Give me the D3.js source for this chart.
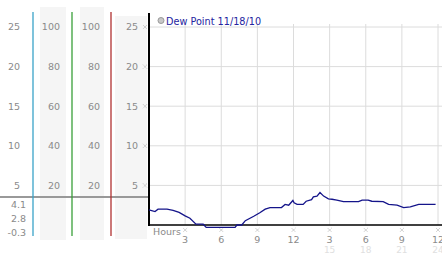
<html>
<head>
	<style>
		body { margin: 0; background: #fff; }
		text { font-family: "DejaVu Sans", Verdana, sans-serif; }
	</style>
	<script type="text/javascript" src="https://d3js.org/d3.v7.min.js"></script>
</head>
<body>
<svg width="442" height="253"></svg>
<script>
	// dew point readings, hours since midnight
	var hours = [0, 0.5, 0.75, 1.5, 2, 2.5, 3, 3.4, 3.9, 4.5, 4.75, 5.7, 7.15, 7.3, 7.7, 8, 8.7, 9.2, 9.65, 10.05,
		11, 11.3, 11.6, 11.95, 12.05, 12.3, 12.8, 13.05, 13.5, 13.65, 13.95, 14.2, 14.5, 14.9, 15.2, 15.6,
		16.15, 17.4, 17.7, 18.2, 18.5, 19.45, 19.9, 20.6, 21.15, 21.7, 22.4, 23.8]
	var dewPoint = [1.9, 1.7, 2.0, 2.0, 1.85, 1.6, 1.15, 0.85, 0.1, 0.1, -0.3, -0.3, -0.3, 0, 0, 0.55, 1.1, 1.55, 2.0, 2.2,
		2.2, 2.6, 2.5, 3.1, 2.8, 2.6, 2.6, 3.0, 3.2, 3.55, 3.65, 4.1, 3.65, 3.3, 3.25, 3.15,
		2.95, 2.95, 3.15, 3.15, 3.0, 2.95, 2.6, 2.5, 2.2, 2.3, 2.6, 2.6]

	var tempTicks = [25, 20, 15, 10, 5]
	var pctTicks = [100, 80, 60, 40, 20]
	var hourTicks = [3, 6, 9, 12, 15, 18, 21, 24]
	var hourLabels = ["3", "6", "9", "12", "3", "6", "9", "12"]
	var hourLabels2 = ["", "", "", "", "15", "18", "21", "24"]
	var stats = ["4.1", "2.8", "-0.3"]
	var legendText = "Dew Point 11/18/10"

	var svg = d3.select("svg")

	var x = d3.scaleLinear().domain([0, 24]).range([149, 438])
	var y = d3.scaleLinear().domain([0, 25]).range([225, 27])
	var yPct = d3.scaleLinear().domain([0, 100]).range([225, 27])

	// left side panels
	svg.append("rect").attr("x", 40).attr("y", 7).attr("width", 26).attr("height", 233).attr("fill", "#f5f5f5")
	svg.append("rect").attr("x", 80).attr("y", 7).attr("width", 24).attr("height", 233).attr("fill", "#f5f5f5")
	svg.append("rect").attr("x", 115).attr("y", 16).attr("width", 32).attr("height", 223).attr("fill", "#f5f5f5")

	svg.append("line").attr("x1", 0).attr("x2", 149).attr("y1", 197).attr("y2", 197)
		.attr("stroke", "#999").attr("stroke-width", 2)

	var sep = [[33, "#3aa3c8"], [72, "#3aa03a"], [111, "#b03030"]]
	sep.forEach(function(s) {
		svg.append("line").attr("x1", s[0]).attr("x2", s[0]).attr("y1", 12).attr("y2", 236)
			.attr("stroke", s[1]).attr("stroke-width", 1.3)
	})

	var labelStyle = function(sel) {
		sel.attr("font-size", "9.5px").attr("fill", "#8a8a8a").attr("text-anchor", "end").attr("dy", "0.35em")
	}

	svg.append("g").selectAll("text").data(tempTicks).enter().append("text")
		.attr("x", 20).attr("y", function(d) { return y(d) }).text(function(d) { return d }).call(labelStyle)
	svg.append("g").selectAll("text").data(pctTicks).enter().append("text")
		.attr("x", 60).attr("y", function(d) { return yPct(d) }).text(function(d) { return d }).call(labelStyle)
	svg.append("g").selectAll("text").data(pctTicks).enter().append("text")
		.attr("x", 100).attr("y", function(d) { return yPct(d) }).text(function(d) { return d }).call(labelStyle)
	svg.append("g").selectAll("text").data(tempTicks).enter().append("text")
		.attr("x", 138).attr("y", function(d) { return y(d) }).text(function(d) { return d }).call(labelStyle)

	svg.append("g").selectAll("text").data(stats).enter().append("text")
		.attr("x", 26).attr("y", function(d, i) { return 205 + i * 14 }).text(function(d) { return d })
		.call(labelStyle)

	// grid
	var grid = svg.append("g")
	grid.selectAll(".h").data(tempTicks).enter().append("line")
		.attr("x1", 149).attr("x2", 442)
		.attr("y1", function(d) { return y(d) }).attr("y2", function(d) { return y(d) })
		.attr("stroke", "#dcdcdc")
	grid.selectAll(".v").data(hourTicks).enter().append("line")
		.attr("y1", 24).attr("y2", 225)
		.attr("x1", function(d) { return x(d) }).attr("x2", function(d) { return x(d) })
		.attr("stroke", "#dcdcdc")

	// tiny dithered tick markers
	function marker(cx, cy) {
		return "M" + (cx - 2) + "," + (cy - 2) + "L" + (cx + 2) + "," + (cy + 2) +
			"M" + (cx + 2) + "," + (cy - 2) + "L" + (cx - 2) + "," + (cy + 2)
	}
	svg.append("g").selectAll("path").data(tempTicks).enter().append("path")
		.attr("d", function(d) { return marker(145, y(d)) })
		.attr("stroke", "#b8b8b8").attr("stroke-width", 0.9).attr("stroke-dasharray", "1,0.6")
	svg.append("g").selectAll("path").data(hourTicks).enter().append("path")
		.attr("d", function(d) { return marker(x(d), 230) })
		.attr("stroke", "#b8b8b8").attr("stroke-width", 0.9).attr("stroke-dasharray", "1,0.6")

	// x labels
	svg.append("g").selectAll("text").data(hourTicks).enter().append("text")
		.attr("x", function(d) { return x(d) }).attr("y", 243)
		.attr("text-anchor", "middle").attr("font-size", "9.5px").attr("fill", "#8a8a8a")
		.text(function(d, i) { return hourLabels[i] })
	svg.append("g").selectAll("text").data(hourTicks).enter().append("text")
		.attr("x", function(d) { return x(d) }).attr("y", 252.5)
		.attr("text-anchor", "middle").attr("font-size", "9px").attr("fill", "#e0e0e0")
		.text(function(d, i) { return hourLabels2[i] })

	svg.append("text").attr("x", 153).attr("y", 235).attr("font-size", "9.5px").attr("fill", "#8a8a8a").text("Hours")

	// axes
	svg.append("line").attr("x1", 149).attr("x2", 149).attr("y1", 13).attr("y2", 226)
		.attr("stroke", "#000").attr("stroke-width", 2)
	svg.append("line").attr("x1", 148).attr("x2", 442).attr("y1", 225).attr("y2", 225)
		.attr("stroke", "#000").attr("stroke-width", 1.5)

	// dew point line
	var line = d3.line()
		.x(function(d, i) { return x(hours[i]) })
		.y(function(d) { return y(d) })
	svg.append("path").datum(dewPoint).attr("d", line)
		.attr("fill", "none").attr("stroke", "#14148a").attr("stroke-width", 1.3)

	// legend
	svg.append("circle").attr("cx", 161).attr("cy", 20.5).attr("r", 3)
		.attr("fill", "#c8c8c8").attr("stroke", "#999")
	svg.append("text").attr("x", 166).attr("y", 24.5).attr("font-size", "9.7px").attr("fill", "#2424a0").text(legendText)
</script>
</body>
</html>
